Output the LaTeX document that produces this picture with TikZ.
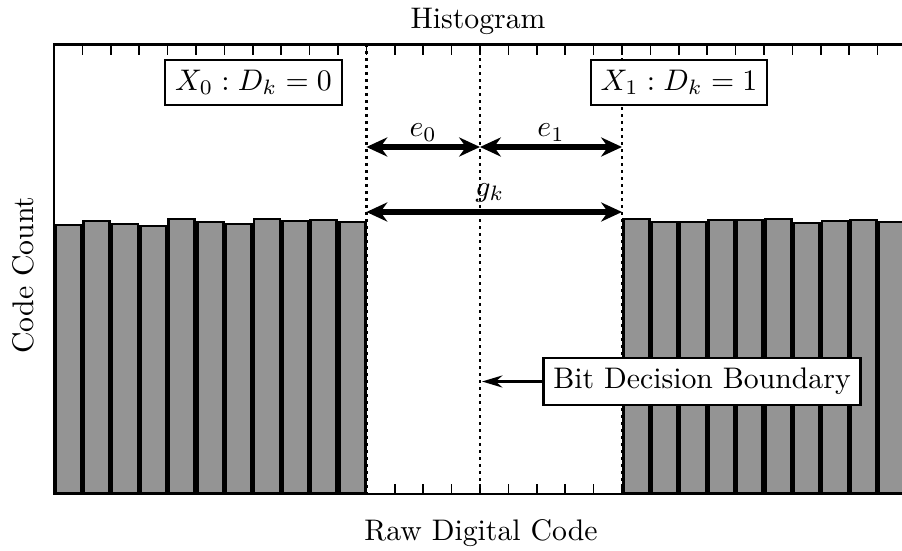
\documentclass[tikz,border=0pt]{standalone}
\usetikzlibrary{arrows.meta}
\definecolor{bargray}{RGB}{148,148,148}
\begin{document}
\begin{tikzpicture}[x=0.336pt,y=-0.336pt,
  frame/.style={line width=0.85pt},
  tickmark/.style={line width=0.6pt},
  bar/.style={draw=black,line width=1pt,fill=bargray},
  guide/.style={line width=0.95pt,dash pattern=on 0.95pt off 1.4pt},
  span/.style={line width=1.8pt,{Stealth[length=7pt,width=6.4pt]}-{Stealth[length=7pt,width=6.4pt]}},
  pointer/.style={line width=1.3pt,-{Stealth[length=6.8pt,width=4pt]}},
  lab/.style={draw,line width=0.8pt,fill=white},
]
\useasboundingbox (0,0) rectangle (902,550);
\clip (0,0) rectangle (902,550);

% bin edges: 54 + 28.4*i
\foreach \i in {1,...,30} {
  \draw[tickmark] (54+28.4*\i,44.5) -- ++(0,10);
  \draw[tickmark] (54+28.4*\i,494) -- ++(0,-10);
}

% lower group of codes (D_k = 0)
\foreach \h [count=\i from 0] in {225,221,224,226,219,222,224,219,221,220,222}
  \draw[bar] (54+28.4*\i+1.2,\h) rectangle (54+28.4*\i+27.2,493);
% upper group of codes (D_k = 1)
\foreach \h [count=\i from 20] in {219,222,222,220,220,219,223,221,220,222}
  \draw[bar] (54+28.4*\i+1.2,\h) rectangle (54+28.4*\i+27.2,493);

% axes frame
\draw[frame] (910,44.5) -- (54,44.5) -- (54,494) -- (910,494);

% guide lines
\coordinate (lt) at (366.4,44.5); \coordinate (lb) at (366.4,494);
\coordinate (mt) at (480,44.5);   \coordinate (mb) at (480,494);
\coordinate (rt) at (622,44.5);   \coordinate (rb) at (622,494);
\draw[guide] (lt) -- (lb);
\draw[guide] (mt) -- (mb);
\draw[guide] (rt) -- (rb);

% gap arrows
\coordinate (l0) at (366.4,147); \coordinate (m0) at (480,147); \coordinate (r0) at (622,147);
\coordinate (l1) at (366.4,212); \coordinate (r1) at (622,212);
\draw[span] (l0) -- node[above,inner sep=1pt] (e0) {$e_0$} (m0);
\draw[span] (m0) -- node[above,inner sep=1pt] (e1) {$e_1$} (r0);
\draw[span] (l1) -- node[above,inner sep=1pt,yshift=1.5pt,xshift=-1.5pt] (gk) {$g_k$} (r1);

% region labels
\node[lab] (x0) at (253.5,82.5) {$X_0 : D_k = 0$};
\node[lab] (x1) at (679,82.5) {$X_1 : D_k = 1$};

% decision boundary label
\node[lab] (bdb) at (702,381.5) {Bit Decision Boundary};
\coordinate (bdtip) at (482,381.5);
\draw[pointer] (bdb.west) -- (bdtip);

% titles
\node[anchor=base] (title) at (478,28) {Histogram};
\node[anchor=base] (xlabel) at (481,540) {Raw Digital Code};
\node[anchor=base,rotate=90] (ylabel) at (33,275) {Code Count};
\end{tikzpicture}
\end{document}
